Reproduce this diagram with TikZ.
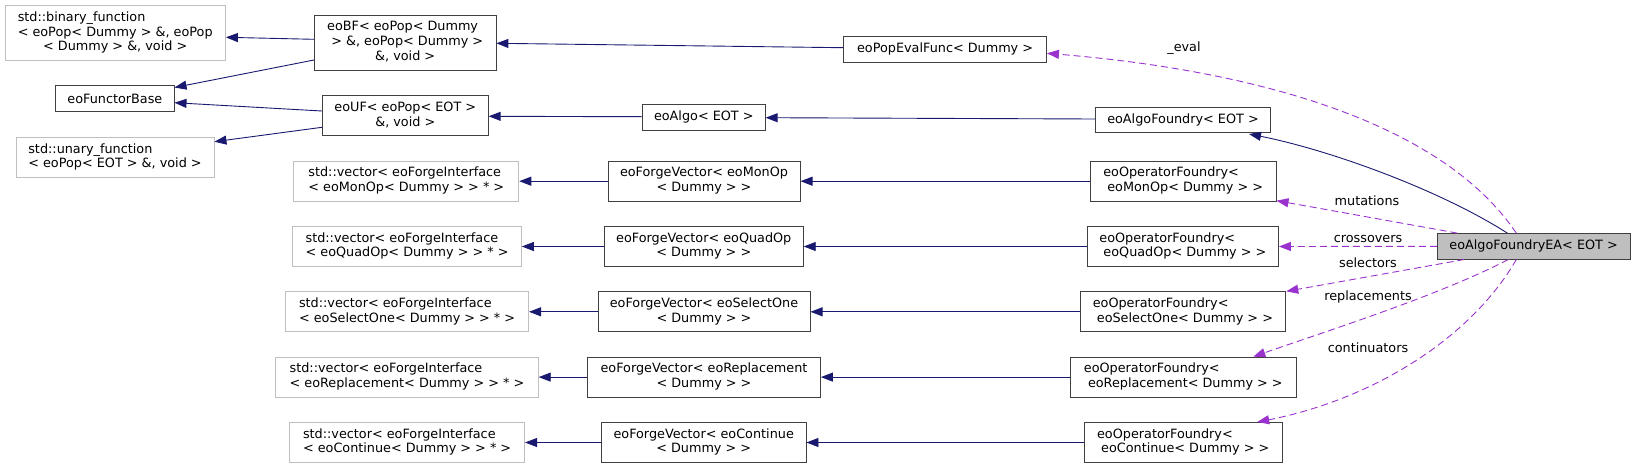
\documentclass[tikz,border=0pt]{standalone}
\usepackage{fontspec}
\setmainfont{DejaVu Sans}
\usetikzlibrary{arrows.meta,calc}
\definecolor{edgeblue}{HTML}{191970}
\definecolor{edgepurple}{HTML}{9A32CD}
\definecolor{boxgray}{HTML}{BFBFBF}
\definecolor{boxline}{HTML}{404040}
\newcommand\lblii[2]{\begin{tabular}{@{}l@{}}#1\\\multicolumn{1}{@{}c@{}}{#2}\end{tabular}}
\newcommand\lbliii[3]{\begin{tabular}{@{}l@{}}#1\\#2\\\multicolumn{1}{@{}c@{}}{#3}\end{tabular}}
\tikzset{
  txt/.style={font=\fontsize{12.8}{14.7}\selectfont},
  cls/.style={txt, draw=boxline, line width=0.9pt, fill=white, inner sep=0pt},
  ext/.style={cls, draw=boxgray},
  focus/.style={cls, fill=boxgray},
  one/.style={minimum height=25.5pt},
  two/.style={minimum height=40pt},
  three/.style={minimum height=55pt},
  inh/.style={draw=edgeblue, line width=0.9pt, -{Triangle[length=12pt,width=9pt]}},
  use/.style={draw=edgepurple, line width=0.9pt, dash pattern=on 7pt off 4pt, -{Triangle[length=12pt,width=9pt]}},
  elabel/.style={txt, inner sep=0pt}
}
\begin{document}
\begin{tikzpicture}[x=1pt,y=-1pt]
\useasboundingbox (0,0) rectangle (1635,469);
% left column
\node[ext, three, minimum width=220.5pt] (bin) at (115.2,33.2) {\lbliii{std::binary\_function}{< eoPop< Dummy > \&, eoPop}{< Dummy > \&, void >}};
\node[cls, one, minimum width=118.3pt] (fb) at (114.9,98.5) {eoFunctorBase};
\node[ext, two, minimum width=198pt] (un) at (115,157.5) {\lblii{std::unary\_function}{< eoPop< EOT > \&, void >}};
% second column
\node[cls, three, minimum width=181.5pt] (bf) at (405.2,42.5) {\lbliii{eoBF< eoPop< Dummy}{\ > \&, eoPop< Dummy >}{\&, void >}};
\node[cls, two, minimum width=165.8pt] (uf) at (405.3,115.9) {\lblii{eoUF< eoPop< EOT >}{\&, void >}};
\node[ext, two, minimum width=225pt] (vm) at (406.3,181.2) {\lblii{std::vector< eoForgeInterface}{< eoMonOp< Dummy > > * >}};
\node[ext, two, minimum width=228.5pt] (vq) at (407.1,246.5) {\lblii{std::vector< eoForgeInterface}{< eoQuadOp< Dummy > > * >}};
\node[ext, two, minimum width=242.9pt] (vs) at (407.1,311.8) {\lblii{std::vector< eoForgeInterface}{< eoSelectOne< Dummy > > * >}};
\node[ext, two, minimum width=262.5pt] (vr) at (407,377.1) {\lblii{std::vector< eoForgeInterface}{< eoReplacement< Dummy > > * >}};
\node[ext, two, minimum width=235pt] (vc) at (407.1,442.5) {\lblii{std::vector< eoForgeInterface}{< eoContinue< Dummy > > * >}};
% third column
\node[cls, one, minimum width=122.8pt] (al) at (703.8,117.2) {eoAlgo< EOT >};
\node[cls, two, minimum width=192.1pt] (fvm) at (704,181.2) {\lblii{eoForgeVector< eoMonOp}{< Dummy > >}};
\node[cls, two, minimum width=198.9pt] (fvq) at (703.8,246.5) {\lblii{eoForgeVector< eoQuadOp}{< Dummy > >}};
\node[cls, two, minimum width=212.1pt] (fvs) at (704,311.8) {\lblii{eoForgeVector< eoSelectOne}{< Dummy > >}};
\node[cls, two, minimum width=232.9pt] (fvr) at (704,377.1) {\lblii{eoForgeVector< eoReplacement}{< Dummy > >}};
\node[cls, two, minimum width=204.6pt] (fvc) at (703.7,442.5) {\lblii{eoForgeVector< eoContinue}{< Dummy > >}};
% fourth column
\node[cls, one, minimum width=202.8pt] (pe) at (945.1,49.2) {eoPopEvalFunc< Dummy >};
% fifth column
\node[cls, one, minimum width=175pt] (af) at (1183,119.8) {eoAlgoFoundry< EOT >};
\node[cls, two, minimum width=185.7pt] (opm) at (1183.2,181.2) {\lblii{eoOperatorFoundry<}{\ eoMonOp< Dummy > >}};
\node[cls, two, minimum width=191.1pt] (opq) at (1182.9,246.5) {\lblii{eoOperatorFoundry<}{\ eoQuadOp< Dummy > >}};
\node[cls, two, minimum width=205.8pt] (ops) at (1182.9,311.8) {\lblii{eoOperatorFoundry<}{\ eoSelectOne< Dummy > >}};
\node[cls, two, minimum width=225.5pt] (opr) at (1183.3,377.1) {\lblii{eoOperatorFoundry<}{\ eoReplacement< Dummy > >}};
\node[cls, two, minimum width=197.7pt] (opc) at (1183.2,442.5) {\lblii{eoOperatorFoundry<}{\ eoContinue< Dummy > >}};
% focus
\node[focus, one, minimum width=192.7pt] (ea) at (1533.6,246.3) {eoAlgoFoundryEA< EOT >};
% inheritance edges
\draw[inh] ($(bf.west)+(0,-3.2)$) -- ($(bin.east)+(0,4.1)$);
\draw[inh] ($(bf.west)+(0,17.5)$) -- ($(fb.east)+(0,-11)$);
\draw[inh] ($(uf.west)+(0,-4.9)$) -- ($(fb.east)+(0,4.2)$);
\draw[inh] ($(uf.west)+(0,11.4)$) -- ($(un.east)+(0,-15.8)$);
\draw[inh] ($(pe.west)+(0,-1.5)$) -- ($(bf.east)+(0,0.8)$);
\draw[inh] ($(al.west)+(0,-0.5)$) -- ($(uf.east)+(0,0.4)$);
\draw[inh] ($(af.west)+(0,-0.8)$) -- ($(al.east)+(0,0.5)$);
\draw[inh] ($(ea.north)+(-26.3,0)$) .. controls (1440,190) and (1330,150) .. ($(af.south)+(66,1)$);
\draw[inh] (fvm.west) -- (vm.east);
\draw[inh] (fvq.west) -- (vq.east);
\draw[inh] (fvs.west) -- (vs.east);
\draw[inh] (fvr.west) -- (vr.east);
\draw[inh] (fvc.west) -- (vc.east);
\draw[inh] (opm.west) -- (fvm.east);
\draw[inh] (opq.west) -- (fvq.east);
\draw[inh] (ops.west) -- (fvs.east);
\draw[inh] (opr.west) -- (fvr.east);
\draw[inh] (opc.west) -- (fvc.east);
% usage edges
\draw[use] ($(ea.north)+(-17.3,0)$) .. controls (1440,120) and (1250,70) .. ($(pe.east)+(0,4.1)$);
\draw[use] ($(ea.north)+(-76.3,0)$) -- ($(opm.south east)+(0,-1)$);
\draw[use] (ea.west) -- (opq.east);
\draw[use] ($(ea.south)+(-69.3,0)$) -- (ops.north east);
\draw[use] ($(ea.south)+(-25.3,0)$) .. controls (1440,295) and (1330,330) .. ($(opr.north)+(70,0)$);
\draw[use] ($(ea.south)+(-17.3,0)$) .. controls (1470,340) and (1370,400) .. ($(opc.north)+(74,0)$);
% edge labels
\node[elabel] (leval) at (1184,47.7) {\_eval};
\node[elabel] (lmut) at (1367,200.3) {mutations};
\node[elabel] (lcross) at (1368,238.7) {crossovers};
\node[elabel] (lsel) at (1368,262.3) {selectors};
\node[elabel] (lrep) at (1368,296.7) {replacements};
\node[elabel] (lcont) at (1368,348) {continuators};
\end{tikzpicture}
\end{document}
